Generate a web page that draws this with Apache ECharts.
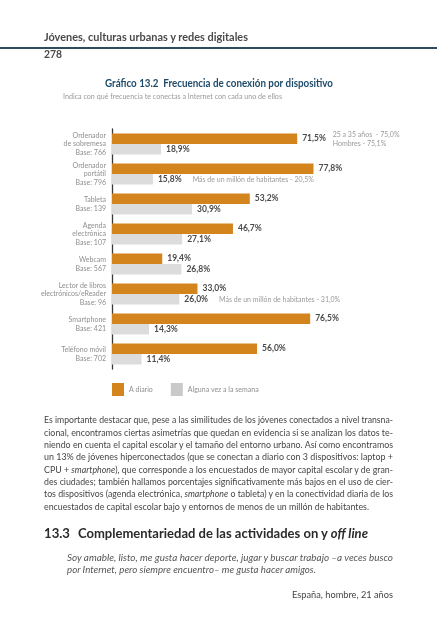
<!DOCTYPE html>
<html>
<head>
<meta charset="utf-8">
<script src="https://cdn.jsdelivr.net/npm/echarts@6/dist/echarts.min.js"></script>
<style>
body{margin:0;background:#fff;width:437px;height:640px;overflow:hidden;position:relative;font-family:Lato,'Open Sans',sans-serif}
#chart{position:absolute;left:0;top:0;width:437px;height:640px}
.ln{position:absolute;white-space:nowrap;line-height:1;transform-origin:0 0;display:inline-block}
.rule{position:absolute;left:0;top:47px;width:437px;height:1.5px;background:#2f4b5e}
</style>
</head>
<body>
<div id="chart"></div>
<div class="rule"></div>
<div id="page"></div>
<script>
// ---- chart data ----
const categories = [
  'Ordenador\nde sobremesa\nBase: 766',
  'Ordenador\nportátil\nBase: 796',
  'Tableta\nBase: 139',
  'Agenda\nelectrónica\nBase: 107',
  'Webcam\nBase: 567',
  'Lector de libros\nelectrónicos/eReader\nBase: 96',
  'Smartphone\nBase: 421',
  'Teléfono móvil\nBase: 702'
];
const daily = [71.5, 77.8, 53.2, 46.7, 19.4, 33.0, 76.5, 56.0];
const weekly = [18.9, 15.8, 30.9, 27.1, 26.8, 26.0, 14.3, 11.4];
const dailyNotes = ['25 a 35 años  - 75,0%\nHombres - 75,1%', '', '', '', '', '', '', ''];
const weeklyNotes = ['', 'Más de un millón de habitantes - 20,5%', '', '', '', 'Más de un millón de habitantes - 31,0%', '', ''];
const seriesNames = ['A diario', 'Alguna vez a la semana'];
const chartTitle = 'Gráfico 13.2  Frecuencia de conexión por dispositivo';
const chartSubtitle = 'Indica con qué frecuencia te conectas a Internet con cada uno de ellos';

// ---- page text ----
const headerText = 'Jóvenes, culturas urbanas y redes digitales';
const pageNumber = '278';
const bodyLines = [
  'Es importante destacar que, pese a las similitudes de los jóvenes conectados a nivel transna-',
  'cional, encontramos ciertas asimetrías que quedan en evidencia si se analizan los datos te-',
  'niendo en cuenta el capital escolar y el tamaño del entorno urbano. Así como encontramos',
  'un 13% de jóvenes hiperconectados (que se conectan a diario con 3 dispositivos: laptop +',
  'CPU + <i>smartphone</i>), que corresponde a los encuestados de mayor capital escolar y de gran-',
  'des ciudades; también hallamos porcentajes significativamente más bajos en el uso de cier-',
  'tos dispositivos (agenda electrónica, <i>smartphone</i> o tableta) y en la conectividad diaria de los',
  'encuestados de capital escolar bajo y entornos de menos de un millón de habitantes.'
];
const headingNumber = '13.3';
const headingText = 'Complementariedad de las actividades on y <i>off line</i>';
const quoteLines = [
  'Soy amable, listo, me gusta hacer deporte, jugar y buscar trabajo –a veces busco',
  'por Internet, pero siempre encuentro– me gusta hacer amigos.'
];
const attribution = 'España, hombre, 21 años';

const ORANGE = '#d4841c', GREY = '#dcdcdc';
const fmt = v => v.toFixed(1).replace('.', ',') + '%';

function measure(text, font) {
  const c = document.createElement('canvas').getContext('2d');
  c.font = font;
  return c.measureText(text).width;
}
function fitText(text, x, y, size, weight, color, target) {
  const w = measure(text, `${weight} ${size}px Lato`);
  return {type: 'text', x: x, y: y, scaleX: target / w, originX: 0,
    style: {text: text, fontSize: size, fontWeight: weight, fontFamily: 'Lato', fill: color, verticalAlign: 'middle', align: 'left'}};
}

const chart = echarts.init(document.getElementById('chart'), null, {renderer: 'canvas'});
chart.setOption({
  animation: false,
  textStyle: {fontFamily: 'Lato'},
  grid: {left: 112, top: 129, width: 259, height: 240},
  xAxis: {type: 'value', min: 0, max: 100, show: false},
  yAxis: {
    type: 'category', inverse: true, data: categories,
    axisLine: {lineStyle: {color: '#3a3a3a', width: 1.3}},
    axisTick: {inside: true, length: 6, lineStyle: {color: '#3a3a3a', width: 1.3}},
    axisLabel: {fontSize: 7, color: '#8f8f8f', lineHeight: 8.5, margin: 6, fontFamily: 'Lato'}
  },
  legend: {
    left: 112, top: 383, padding: 0, itemWidth: 12, itemHeight: 13, itemGap: 18, icon: 'rect',
    textStyle: {fontSize: 7, color: '#8f8f8f', fontFamily: 'Lato'},
    data: [{name: seriesNames[0], itemStyle: {color: ORANGE}}, {name: seriesNames[1], itemStyle: {color: '#c9c9c9'}}]
  },
  series: [
    {
      name: seriesNames[0], type: 'bar', data: daily, barWidth: 10.5, barGap: '0%',
      itemStyle: {color: ORANGE},
      label: {show: true, position: 'right', distance: 5, formatter: p => fmt(p.value),
        fontSize: 8.5, fontWeight: 'bold', color: '#4a4a4a', fontFamily: 'Lato'},
      markPoint: {
        symbol: 'circle', symbolSize: 1, itemStyle: {color: 'rgba(0,0,0,0)'},
        label: {show: true, position: 'right', distance: 5, offset: [30, 0], align: 'left',
          fontSize: 7, lineHeight: 9, color: '#9a9a9a', fontFamily: 'Lato', formatter: p => p.name},
        data: dailyNotes.map((n, i) => n ? {name: n, coord: [daily[i], categories[i]]} : null).filter(Boolean)
      }
    },
    {
      name: seriesNames[1], type: 'bar', data: weekly, barWidth: 10.5,
      itemStyle: {color: GREY},
      label: {show: true, position: 'right', distance: 5,
        formatter: p => weeklyNotes[p.dataIndex] ? `{v|${fmt(p.value)}}{n|${weeklyNotes[p.dataIndex]}}` : `{v|${fmt(p.value)}}`,
        rich: {
          v: {fontSize: 8.5, fontWeight: 'bold', color: '#4a4a4a', fontFamily: 'Lato'},
          n: {fontSize: 7, color: '#9a9a9a', fontFamily: 'Lato', padding: [0, 0, 0, 11]}
        }}
    }
  ],
  graphic: [
    fitText(chartTitle, 105, 83, 11, 'bold', '#1e4a6a', 228),
    fitText(chartSubtitle, 63, 97, 7.5, 'normal', '#9a9a9a', 219)
  ]
});

// ---- page text (HTML overlay) ----
const page = document.getElementById('page');
function addLine(html, x, y, w, size, opts) {
  opts = opts || {};
  const d = document.createElement('div');
  d.className = 'ln';
  d.innerHTML = html;
  d.style.left = x + 'px';
  d.style.top = (y - 0.6 * size) + 'px';
  d.style.fontSize = size + 'px';
  d.style.fontWeight = opts.weight || 'normal';
  d.style.fontStyle = opts.italic ? 'italic' : 'normal';
  d.style.color = opts.color || '#444';
  d.dataset.w = w;
  page.appendChild(d);
}
addLine(headerText, 44, 38, 204, 11.5, {weight: 'bold', color: '#4a4a4a'});
addLine(pageNumber, 44, 55, 18, 11.5, {weight: 'bold', color: '#4a4a4a'});
const bodyY = [420, 432.5, 445, 457, 469.5, 482, 494, 506.5];
bodyLines.forEach((t, i) => addLine(t, 44, bodyY[i], i === bodyLines.length - 1 ? 325 : 349, 10, {color: '#454545'}));
addLine(headingNumber, 44, 534, 26, 14, {weight: 'bold', color: '#2a2a2a'});
addLine(headingText, 78, 534, 290, 14, {weight: 'bold', color: '#2a2a2a'});
addLine(quoteLines[0], 67, 558, 326, 10, {italic: true, color: '#555'});
addLine(quoteLines[1], 67, 570, 249, 10, {italic: true, color: '#555'});
addLine(attribution, 292, 595, 101, 10, {color: '#444'});

function fitLines() {
  document.querySelectorAll('.ln').forEach(el => {
    el.style.transform = 'none';
    const w = el.getBoundingClientRect().width;
    el.style.transform = 'scaleX(' + (+el.dataset.w / w) + ')';
  });
}
fitLines();
if (document.fonts && document.fonts.ready) document.fonts.ready.then(fitLines);
</script>
</body>
</html>
